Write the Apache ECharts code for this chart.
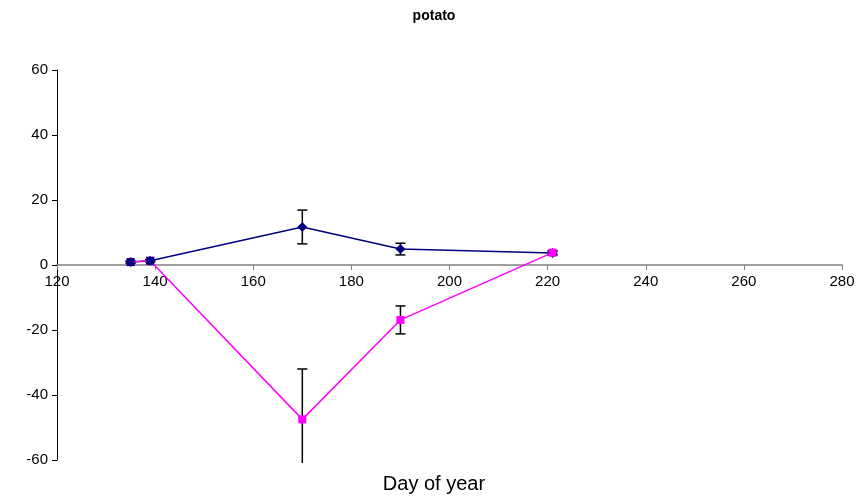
<!DOCTYPE html>
<html>
<head>
<meta charset="utf-8">
<script src="https://cdn.jsdelivr.net/npm/echarts@6/dist/echarts.min.js"></script>
<style>
html, body { margin: 0; padding: 0; background: #fff; }
#chart { width: 868px; height: 499px; }
</style>
</head>
<body>
<div id="chart"></div>
<script>
// Day of year for each sampling date
const days = [135, 139, 170, 190, 221];
// Mean values and standard errors for the two treatments
const navyMeans = [0.9, 1.3, 11.7, 4.9, 3.7];
const navyErrors = [0.3, 0.3, 5.2, 1.8, 0.6];
const pinkMeans = [0.9, 1.3, -47.5, -16.9, 3.8];
const pinkErrors = [0.3, 0.3, 15.5, 4.3, 0.6];
// Early-season points marked separately
const earlyDays = [135, 139];
const earlyMeans = [0.9, 1.3];

const xTicks = [120, 140, 160, 180, 200, 220, 240, 260, 280];
const yTicks = [-60, -40, -20, 0, 20, 40, 60];

const pairs = (xs, ys) => xs.map((x, i) => [x, ys[i]]);
const errorData = (xs, ys, es) => xs.map((x, i) => [x, ys[i] - es[i], ys[i] + es[i]]);

// Plot area
const GRID = { left: 57, right: 26, top: 70, bottom: 39 };
const plotHeight = 499 - GRID.top - GRID.bottom;
const yMin = yTicks[0], yMax = yTicks[yTicks.length - 1];
// The category axis sits on the y = 0 line, labels included
const xAxisOffset = -plotHeight * (0 - yMin) / (yMax - yMin);

function renderErrorBar(params, api) {
  const cs = params.coordSys;
  const x = api.value(0);
  const lo = api.coord([x, api.value(1)]);
  const hi = api.coord([x, api.value(2)]);
  const top = cs.y, bottom = cs.y + cs.height;
  const half = 5;
  const children = [];
  const y1 = Math.max(hi[1], top), y2 = Math.min(lo[1], bottom + 3);
  children.push({ type: 'line', shape: { x1: hi[0], y1: y1, x2: hi[0], y2: y2 },
    style: { stroke: '#000', lineWidth: 1.5 } });
  if (hi[1] >= top) children.push({ type: 'line',
    shape: { x1: hi[0] - half, y1: hi[1], x2: hi[0] + half, y2: hi[1] },
    style: { stroke: '#000', lineWidth: 1.5 } });
  if (lo[1] <= bottom) children.push({ type: 'line',
    shape: { x1: lo[0] - half, y1: lo[1], x2: lo[0] + half, y2: lo[1] },
    style: { stroke: '#000', lineWidth: 1.5 } });
  return { type: 'group', children: children };
}

const chart = echarts.init(document.getElementById('chart'));
chart.setOption({
  animation: false,
  title: [
    {
      text: 'potato', left: 'center', top: 4,
      textStyle: { fontFamily: 'Liberation Sans', fontSize: 14, fontWeight: 'bold', color: '#000' }
    },
    {
      text: 'Day of year', left: 'center', top: 469,
      textStyle: { fontFamily: 'Liberation Sans', fontSize: 20, fontWeight: 'normal', color: '#000' }
    }
  ],
  grid: Object.assign({ containLabel: false, outerBoundsMode: 'none' }, GRID),
  xAxis: {
    type: 'value', min: xTicks[0], max: xTicks[xTicks.length - 1], interval: 20,
    offset: xAxisOffset,
    axisLine: { onZero: false, lineStyle: { color: '#808080', width: 1.5 } },
    axisTick: { show: true, length: 5, lineStyle: { color: '#808080' } },
    axisLabel: { fontFamily: 'Liberation Sans', fontSize: 15, color: '#000', margin: 9 },
    splitLine: { show: false }
  },
  yAxis: {
    type: 'value', min: yMin, max: yMax, interval: 20,
    axisLine: { show: true, onZero: false, lineStyle: { color: '#000', width: 1 } },
    axisTick: { show: true, length: 5, lineStyle: { color: '#000' } },
    axisLabel: { fontFamily: 'Liberation Sans', fontSize: 15, color: '#000', margin: 9 },
    splitLine: { show: false }
  },
  series: [
    {
      type: 'line', data: pairs(days, navyMeans), z: 3,
      symbol: 'diamond', symbolSize: 10,
      lineStyle: { color: '#000080', width: 1.5 },
      itemStyle: { color: '#000080' }
    },
    {
      type: 'custom', data: errorData(days, navyMeans, navyErrors),
      renderItem: renderErrorBar, z: 2, clip: false
    },
    {
      type: 'line', data: pairs(days, pinkMeans), z: 4,
      symbol: 'rect', symbolSize: 8,
      lineStyle: { color: '#FF00FF', width: 1.5 },
      itemStyle: { color: '#FF00FF' }
    },
    {
      type: 'custom', data: errorData(days, pinkMeans, pinkErrors),
      renderItem: renderErrorBar, z: 2, clip: false
    },
    {
      type: 'line', data: pairs(earlyDays, earlyMeans), z: 5,
      symbol: 'rect', symbolSize: 8,
      lineStyle: { width: 0, opacity: 0 },
      itemStyle: { color: '#000080' }
    }
  ]
});
</script>
</body>
</html>
